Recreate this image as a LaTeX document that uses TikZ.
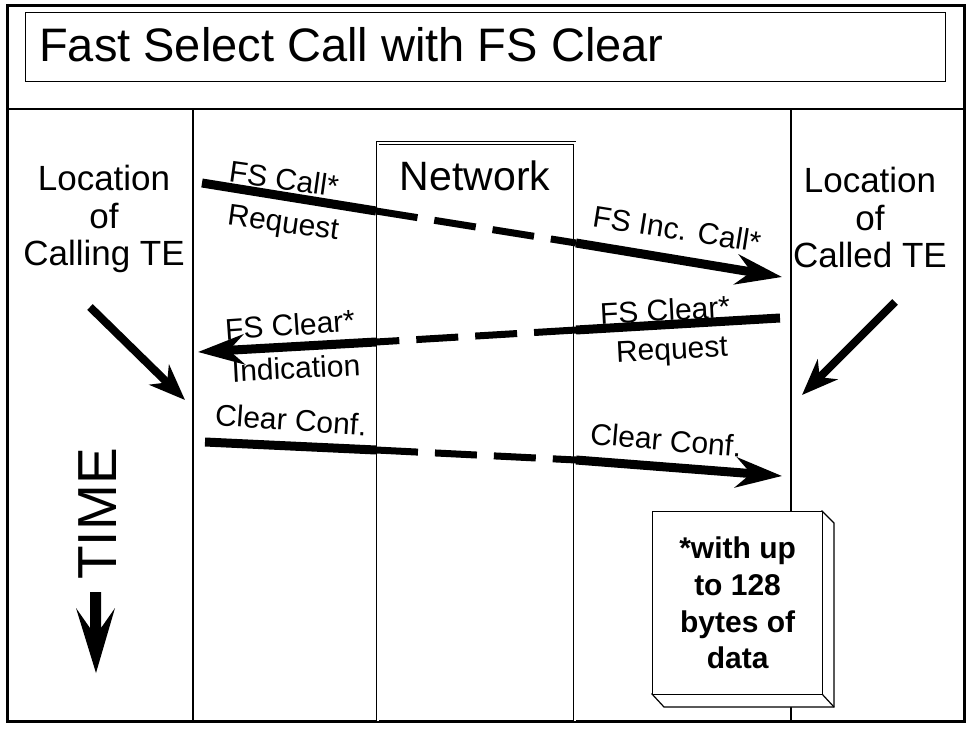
\documentclass[tikz,border=0pt]{standalone}
\usepackage{fontspec}
\setmainfont{Liberation Sans}
\usetikzlibrary{arrows.meta}
\begin{document}
\begin{tikzpicture}[x=1pt,y=-1pt,
  outer/.style={draw=black, line width=3pt},
  vline/.style={draw=black, line width=2pt},
  thickseg/.style={line width=9pt, line cap=butt},
  dashseg/.style={line width=7pt, dash pattern=on 42pt off 17pt},
  msgarrow/.style={thickseg, -{Stealth[length=46pt,width=30pt,inset=15pt]}},
  diag/.style={line width=8pt, -{Stealth[length=36pt,width=28pt,inset=11pt]}},
  lbl/.style={font=\fontsize{30}{32}\selectfont, inner sep=0pt},
  loc/.style={font=\fontsize{35}{37.5}\selectfont, align=center, inner sep=0pt},
]
\useasboundingbox (0,0) rectangle (968,730);
% frame
\draw[outer] (7,6) rectangle (964,721);
\node[draw, line width=1pt, minimum width=920pt, minimum height=69pt, anchor=north west, inner sep=0pt] (titlebox) at (25,12) {};
\node[font=\fontsize{47}{50}\selectfont, anchor=base west, inner sep=0pt] (title) at (39,62) {Fast Select Call with FS Clear};
\draw[line width=1.5pt] (7,109) -- (964,109);
% lifelines
\draw[vline] (193,109) -- (193,721);
\draw[vline] (791,109) -- (791,721);
\draw[double, double distance=2pt, line width=0.8pt] (377.5,721) -- (377.5,143) -- (574.5,143) -- (574.5,721);
\node[font=\fontsize{41}{44}\selectfont, anchor=base, inner sep=0pt] (net) at (475,190) {Network};
% location labels
\node[loc, anchor=north] (calling) at (104,165) {Location\\of\\Calling TE};
\node[loc, anchor=north] (called) at (870,167) {Location\\of\\Called TE};
% diagonal time arrows
\coordinate (dl1) at (90,307); \coordinate (dl2) at (185,400);
\coordinate (dr1) at (895,302); \coordinate (dr2) at (802,395);
\draw[diag] (dl1) -- (dl2);
\draw[diag] (dr1) -- (dr2);
% message 1
\coordinate (m1a) at (202,183); \coordinate (m1b) at (376,211);
\coordinate (m1c) at (576,243); \coordinate (m1d) at (782,277);
\draw[thickseg] (m1a) -- (m1b);
\draw[dashseg] (m1b) -- (m1c);
\draw[msgarrow] (m1c) -- (m1d);
\node[lbl, rotate=-8] (l1a) at (284,179) {FS Call*};
\node[lbl, rotate=-8] (l1b) at (283,225) {Request};
\node[lbl, rotate=-9] (l1c) at (677,229) {FS Inc. Call*};
% message 2
\coordinate (m2a) at (780,318); \coordinate (m2b) at (576,330);
\coordinate (m2c) at (376,342); \coordinate (m2d) at (198,352);
\draw[thickseg] (m2a) -- (m2b);
\draw[dashseg] (m2b) -- (m2c);
\draw[msgarrow] (m2c) -- (m2d);
\node[lbl, rotate=4] (l2a) at (290,325) {FS Clear*};
\node[lbl, rotate=3] (l2b) at (296,368) {Indication};
\node[lbl, rotate=3] (l2c) at (665,310) {FS Clear*};
\node[lbl, rotate=3] (l2d) at (672,352) {Request};
% message 3
\coordinate (m3a) at (205,442); \coordinate (m3b) at (376,450);
\coordinate (m3c) at (576,460); \coordinate (m3d) at (782,476);
\draw[thickseg] (m3a) -- (m3b);
\draw[dashseg] (m3b) -- (m3c);
\draw[msgarrow] (m3c) -- (m3d);
\node[lbl, rotate=-4] (l3a) at (291,420) {Clear Conf.};
\node[lbl, rotate=-5] (l3b) at (666,440) {Clear Conf.};
% TIME
\node[font=\fontsize{55}{60}\selectfont, rotate=90, inner sep=0pt] (time) at (98,514) {TIME};
\fill (90,592) -- (101,592) -- (101,628) -- (115,608) -- (96,673) -- (76,608) -- (90,628) -- cycle;
% note box
\draw[line width=1.2pt, fill=white] (652,694) -- (664,707) -- (834,707) -- (834,523) -- (822,511) -- cycle;
\draw[line width=1.2pt] (822,694) -- (834,707);
\node[draw, line width=1.2pt, fill=white, minimum width=170pt, minimum height=183pt, anchor=north west, align=center, inner sep=0pt, font=\bfseries\fontsize{30}{36.7}\selectfont] (note) at (652,511) {*with up\\to 128\\bytes of\\data};
\end{tikzpicture}
\end{document}
